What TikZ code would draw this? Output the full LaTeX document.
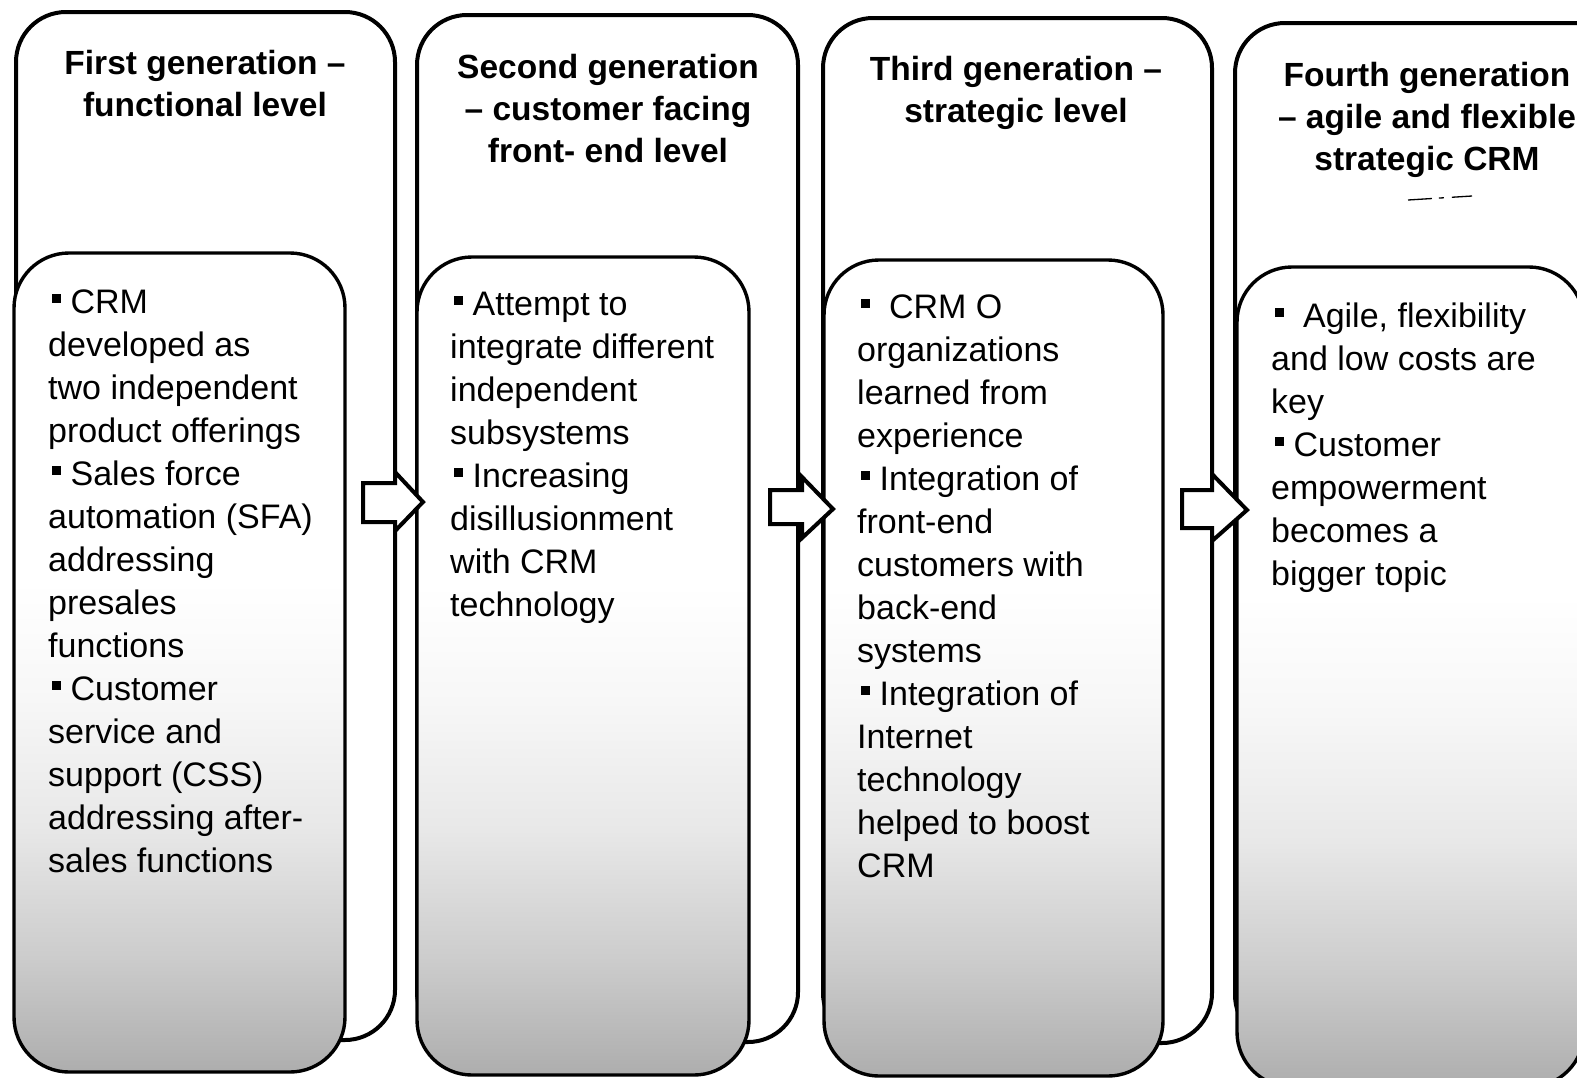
\documentclass[tikz,border=0pt]{standalone}
\usepackage{fontspec}
\setmainfont{Liberation Sans}

% soft grey fill that darkens towards the bottom of each content panel
\pgfdeclareverticalshading{grain}{100bp}{%
  color(0bp)=(black!32); color(25bp)=(black!32); color(32bp)=(black!20);
  color(40bp)=(black!9); color(48bp)=(black!3); color(55bp)=(white);
  color(100bp)=(white)}

% small square bullet
\newcommand\bul{\hspace*{4pt}\rule[10pt]{9pt}{9pt}}

\begin{document}
\begin{tikzpicture}[x=1pt,y=-1pt,
  outerbox/.style={draw=black, line width=4pt, rounded corners=50pt,
    inner sep=0pt, outer sep=0pt, anchor=north west},
  innerbox/.style={draw=black, line width=3.4pt, rounded corners=55pt,
    shade, shading=grain, inner sep=0pt, outer sep=0pt, anchor=north west},
  head/.style={anchor=base, inner sep=0pt,
    font=\fontsize{33.5}{42}\selectfont\bfseries},
  body/.style={anchor=base west, inner sep=0pt,
    font=\fontsize{34}{43}\selectfont},
  blockarrow/.style={draw=black, line width=4pt, fill=white, line join=miter}]

\fill[white] (0,0) rectangle (1594,1077);
\useasboundingbox (0,0) rectangle (1594,1077);

% ---------- first generation ----------
\node[outerbox, minimum width=379pt, minimum height=1028pt] (outer1) at (16,12) {};
\node[innerbox, minimum width=331pt, minimum height=819pt] (inner1) at (14,253) {};
\node[head] (h1) at (205,74) {\parbox[t]{400pt}{\centering
  First generation –\\functional level}};
\node[body] (b1) at (48,313) {\parbox[t]{400pt}{\raggedright
  \bul\ CRM\\
  developed as\\
  two independent\\
  product offerings\\
  \bul\ Sales force\\
  automation (SFA)\\
  addressing\\
  presales\\
  functions\\
  \bul\ Customer\\
  service and\\
  support (CSS)\\
  addressing after-\\
  sales functions}};

% ---------- second generation ----------
\node[outerbox, minimum width=381pt, minimum height=1027pt] (outer2) at (417,15) {};
\node[innerbox, minimum width=332pt, minimum height=818pt] (inner2) at (417,257) {};
\node[head] (h2) at (608,78) {\parbox[t]{400pt}{\centering
  Second generation\\– customer facing\\front- end level}};
\node[body] (b2) at (450,315) {\parbox[t]{400pt}{\raggedright
  \bul\ Attempt to\\
  integrate different\\
  independent\\
  subsystems\\
  \bul\ Increasing\\
  disillusionment\\
  with CRM\\
  technology}};

% ---------- third generation ----------
\node[outerbox, minimum width=389pt, minimum height=1025pt] (outer3) at (823,18) {};
\node[innerbox, minimum width=339pt, minimum height=816pt] (inner3) at (824,260) {};
\node[head] (h3) at (1016,80) {\parbox[t]{400pt}{\centering
  Third generation –\\strategic level}};
\node[body] (b3) at (857,318) {\parbox[t]{400pt}{\raggedright
  \bul\ \ CRM O\\
  organizations\\
  learned from\\
  experience\\
  \bul\ Integration of\\
  front-end\\
  customers with\\
  back-end\\
  systems\\
  \bul\ Integration of\\
  Internet\\
  technology\\
  helped to boost\\
  CRM}};

% ---------- fourth generation (runs past the right margin) ----------
\node[outerbox, minimum width=389pt, minimum height=1022pt] (outer4) at (1235,23) {};
\node[innerbox, minimum width=347pt, minimum height=820pt] (inner4) at (1237,267) {};
\node[head] (h4) at (1427,86) {\parbox[t]{420pt}{\centering
  Fourth generation\\– agile and flexible\\strategic CRM}};
\draw[line width=1.3pt, dash pattern=on 24pt off 7pt on 5pt off 8pt on 22pt]
  (1408,200) -- (1472,196);
\node[body] (b4) at (1271,327) {\parbox[t]{400pt}{\raggedright
  \bul\ \ Agile, flexibility\\
  and low costs are\\
  key\\
  \bul\ Customer\\
  empowerment\\
  becomes a\\
  bigger topic}};
% blank right margin
\fill[white] (1577,-2) rectangle (1596,1079);

% ---------- block arrows between the generations ----------
\draw[blockarrow] (363,483) -- (395,483) -- (395,472) -- (423,502)
  -- (395,531) -- (395,522) -- (363,522) -- cycle;
\draw[blockarrow] (770,490) -- (802,490) -- (802,477) -- (833,509)
  -- (802,538) -- (802,524) -- (770,524) -- cycle;
\draw[blockarrow] (1182,490) -- (1212,490) -- (1212,474) -- (1247,510)
  -- (1212,541) -- (1212,528) -- (1182,528) -- cycle;

\end{tikzpicture}
\end{document}
